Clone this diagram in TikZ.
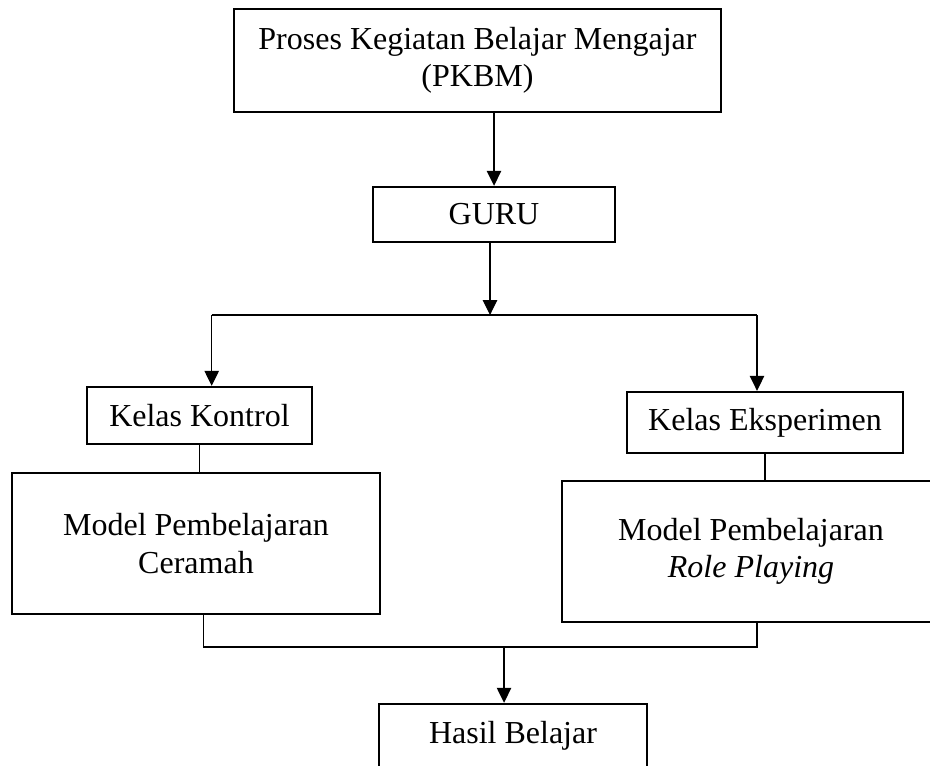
\documentclass[tikz,border=0pt]{standalone}
\usepackage{fontspec}
\setmainfont{Liberation Serif}
\usetikzlibrary{arrows.meta}

\begin{document}
\begin{tikzpicture}[>={Triangle[length=5.6pt,width=5.4pt]}, every node/.style={font=\fontsize{12}{14}\selectfont},
box/.style={draw,line width=0.9pt,align=center,inner sep=0pt},
link/.style={line width=0.45pt}]
\useasboundingbox (0,0) rectangle (12.257,-10.083);
\node[box,minimum width=6.419cm,minimum height=1.358cm] (pkbm) at (6.293,-0.797) {Proses Kegiatan Belajar Mengajar\\(PKBM)};
\node[box,minimum width=3.190cm,minimum height=0.725cm] (guru) at (6.511,-2.827) {GURU};
\node[box,minimum width=2.966cm,minimum height=0.751cm] (kontrol) at (2.629,-5.476) {Kelas Kontrol};
\node[box,minimum width=3.638cm,minimum height=0.804cm] (eksp) at (10.083,-5.569) {Kelas Eksperimen};
\node[box,minimum width=4.850cm,minimum height=1.858cm] (ceramah) at (2.583,-7.163) {Model Pembelajaran\\Ceramah};
\node[box,minimum width=4.982cm,minimum height=1.858cm] (roleplay) at (9.898,-7.269) {Model Pembelajaran\\\textit{Role Playing}};
\node[box,minimum width=3.532cm,minimum height=0.844cm] (hasil) at (6.761,-9.700) {Hasil Belajar};
\coordinate (split) at (6.458,-4.152);
\coordinate (sl) at (2.790,-4.152);
\coordinate (sr) at (9.977,-4.152);
\coordinate (merge) at (6.643,-8.527);
\coordinate (ml) at (2.679,-8.527);
\coordinate (mr) at (9.977,-8.527);
\draw[link,->] (pkbm.south -| guru.north) -- (guru.north);
\draw[link,->] (guru.south -| split) -- (split);
\draw[link] (sl) -- (sr);
\draw[link,->] (sl) -- (sl |- kontrol.north);
\draw[link,->] (sr) -- (sr |- eksp.north);
\draw[link] (kontrol.south) -- (kontrol.south |- ceramah.north);
\draw[link] (eksp.south) -- (eksp.south |- roleplay.north);
\draw[link] (ceramah.south -| ml) -- (ml) -- (mr) -- (roleplay.south -| mr);
\draw[link,->] (merge) -- (merge |- hasil.north);
\end{tikzpicture}
\end{document}
